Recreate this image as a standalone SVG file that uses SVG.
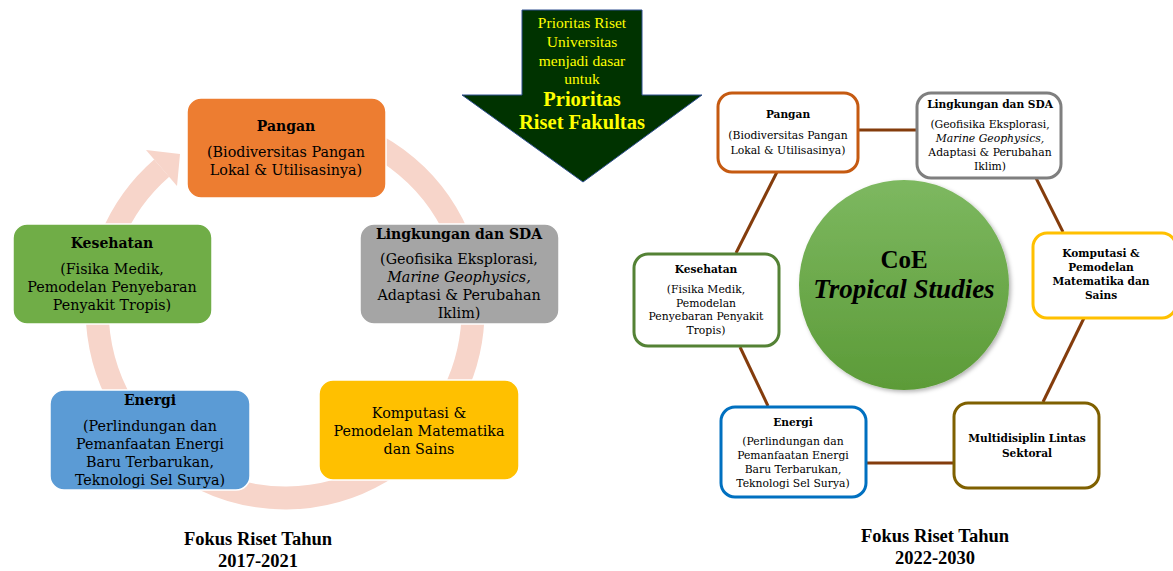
<svg xmlns="http://www.w3.org/2000/svg" width="1173" height="571" viewBox="0 0 1173 571">
<defs>
<style>
.t{font-family:"DejaVu Serif","Liberation Serif",serif;text-anchor:middle;fill:#000}
.lt{font-size:14.3px}
.lb{font-size:14px;font-weight:bold}
.rt{font-size:10.8px}
.rb{font-size:10.6px;font-weight:bold}
.it{font-style:italic}
.lbox{stroke:#ffffff;stroke-width:1.5}
.rbox{fill:#ffffff;stroke-width:3}
.conn{stroke:#843C0C;stroke-width:3;fill:none}
.ar{font-family:"Liberation Serif",serif;text-anchor:middle;fill:#FFFF00}
.cap{font-family:"Liberation Serif",serif;text-anchor:middle;font-weight:bold;font-size:18.5px;fill:#000}
</style>
<linearGradient id="cg" x1="0" y1="0" x2="0" y2="1">
<stop offset="0" stop-color="#7DB860"/>
<stop offset="1" stop-color="#5C9B38"/>
</linearGradient>
<filter id="sh" x="-20%" y="-20%" width="140%" height="140%">
<feDropShadow dx="2" dy="2" stdDeviation="2" flood-color="#000" flood-opacity="0.3"/>
</filter>
</defs>
<rect width="1173" height="571" fill="#ffffff"/>

<!-- circular arrow (left cycle) -->
<g id="cycle-arrow">
<path d="M220.7,133.3 A188,188 0 1 1 161.7,168.1" fill="none" stroke="#F7D5CA" stroke-width="23"/>
<polygon points="146,150 180,154 177,186" fill="#F7D5CA"/>
</g>

<!-- top arrow -->
<g id="top-arrow">
<polygon points="522,10 642,10 642,95 702,95 583,182 462,95 522,95" fill="#003300" stroke="#2F4F8F" stroke-width="1"/>
<text class="ar" x="582" y="28" font-size="15.5">Prioritas Riset</text>
<text class="ar" x="582" y="47" font-size="15.5">Universitas</text>
<text class="ar" x="582" y="66" font-size="15.5">menjadi dasar</text>
<text class="ar" x="582" y="84" font-size="15.5">untuk</text>
<text class="ar" x="582" y="106" font-size="20.5" font-weight="bold">Prioritas</text>
<text class="ar" x="582" y="129" font-size="20.5" font-weight="bold">Riset Fakultas</text>
</g>

<!-- left nodes -->
<g id="l-pangan">
<rect class="lbox" x="187" y="98" width="199" height="100" rx="14" fill="#ED7D31"/>
<text class="t lb" x="286" y="131">Pangan</text>
<text class="t lt" x="286" y="157">(Biodiversitas Pangan</text>
<text class="t lt" x="286" y="175">Lokal &amp; Utilisasinya)</text>
</g>
<g id="l-lingkungan">
<rect class="lbox" x="360" y="224" width="199" height="100" rx="14" fill="#A5A5A5"/>
<text class="t lb" x="459" y="239">Lingkungan dan SDA</text>
<text class="t lt" x="459" y="264">(Geofisika Eksplorasi,</text>
<text class="t lt it" x="459" y="282">Marine Geophysics,</text>
<text class="t lt" x="459" y="300">Adaptasi &amp; Perubahan</text>
<text class="t lt" x="459" y="318">Iklim)</text>
</g>
<g id="l-kesehatan">
<rect class="lbox" x="13" y="224" width="199" height="100" rx="14" fill="#70AD47"/>
<text class="t lb" x="112" y="248">Kesehatan</text>
<text class="t lt" x="112" y="274">(Fisika Medik,</text>
<text class="t lt" x="112" y="292">Pemodelan Penyebaran</text>
<text class="t lt" x="112" y="310">Penyakit Tropis)</text>
</g>
<g id="l-energi">
<rect class="lbox" x="50" y="390" width="200" height="100" rx="14" fill="#5B9BD5"/>
<text class="t lb" x="150" y="405">Energi</text>
<text class="t lt" x="150" y="431">(Perlindungan dan</text>
<text class="t lt" x="150" y="449">Pemanfaatan Energi</text>
<text class="t lt" x="150" y="467">Baru Terbarukan,</text>
<text class="t lt" x="150" y="485">Teknologi Sel Surya)</text>
</g>
<g id="l-komputasi">
<rect class="lbox" x="319" y="380" width="200" height="100" rx="14" fill="#FFC000"/>
<text class="t lt" x="419" y="418">Komputasi &amp;</text>
<text class="t lt" x="419" y="436">Pemodelan Matematika</text>
<text class="t lt" x="419" y="454">dan Sains</text>
</g>

<!-- right connectors -->
<g id="connectors">
<line class="conn" x1="858" y1="130" x2="916" y2="130"/>
<line class="conn" x1="1036" y1="178" x2="1063" y2="232"/>
<line class="conn" x1="1084" y1="318" x2="1043" y2="402"/>
<line class="conn" x1="866" y1="463" x2="953" y2="463"/>
<line class="conn" x1="768" y1="406" x2="740" y2="347"/>
<line class="conn" x1="736" y1="253" x2="777" y2="172"/>
</g>

<!-- center circle -->
<g id="coe">
<circle cx="904" cy="285" r="105" fill="url(#cg)" filter="url(#sh)"/>
<text x="904" y="268" font-family="'Liberation Serif',serif" font-size="25" font-weight="bold" text-anchor="middle" fill="#000">CoE</text>
<text x="904" y="298" font-family="'Liberation Serif',serif" font-size="27" font-weight="bold" font-style="italic" text-anchor="middle" fill="#000">Tropical Studies</text>
</g>

<!-- right nodes -->
<g id="r-pangan">
<rect class="rbox" x="718" y="93" width="140" height="79" rx="14" stroke="#C55A11"/>
<text class="t rb" x="788" y="118">Pangan</text>
<text class="t rt" x="788" y="139">(Biodiversitas Pangan</text>
<text class="t rt" x="788" y="154">Lokal &amp; Utilisasinya)</text>
</g>
<g id="r-lingkungan">
<rect class="rbox" x="917" y="93" width="144" height="85" rx="14" stroke="#7F7F7F"/>
<text class="t rb" x="990" y="108">Lingkungan dan SDA</text>
<text class="t rt" x="990" y="128">(Geofisika Eksplorasi,</text>
<text class="t rt it" x="990" y="142">Marine Geophysics,</text>
<text class="t rt" x="990" y="156">Adaptasi &amp; Perubahan</text>
<text class="t rt" x="990" y="170">Iklim)</text>
</g>
<g id="r-komputasi">
<rect class="rbox" x="1033" y="233" width="143" height="85" rx="14" stroke="#FFC000"/>
<text class="t rb" x="1101" y="257">Komputasi &amp;</text>
<text class="t rb" x="1101" y="271">Pemodelan</text>
<text class="t rb" x="1101" y="285">Matematika dan</text>
<text class="t rb" x="1101" y="299">Sains</text>
</g>
<g id="r-multi">
<rect class="rbox" x="954" y="403" width="145" height="85" rx="14" stroke="#7F6000"/>
<text class="t rb" x="1027" y="442">Multidisiplin Lintas</text>
<text class="t rb" x="1027" y="457">Sektoral</text>
</g>
<g id="r-energi">
<rect class="rbox" x="721" y="407" width="145" height="90" rx="14" stroke="#0070C0"/>
<text class="t rb" x="793" y="426">Energi</text>
<text class="t rt" x="793" y="445">(Perlindungan dan</text>
<text class="t rt" x="793" y="459">Pemanfaatan Energi</text>
<text class="t rt" x="793" y="473">Baru Terbarukan,</text>
<text class="t rt" x="793" y="487">Teknologi Sel Surya)</text>
</g>
<g id="r-kesehatan">
<rect class="rbox" x="634" y="254" width="145" height="92" rx="14" stroke="#548235"/>
<text class="t rb" x="706" y="273">Kesehatan</text>
<text class="t rt" x="706" y="293">(Fisika Medik,</text>
<text class="t rt" x="706" y="307">Pemodelan</text>
<text class="t rt" x="706" y="320">Penyebaran Penyakit</text>
<text class="t rt" x="706" y="334">Tropis)</text>
</g>

<!-- captions -->
<g id="captions">
<text class="cap" x="258" y="545">Fokus Riset Tahun</text>
<text class="cap" x="258" y="567">2017-2021</text>
<text class="cap" x="935" y="542">Fokus Riset Tahun</text>
<text class="cap" x="935" y="564">2022-2030</text>
</g>
</svg>
